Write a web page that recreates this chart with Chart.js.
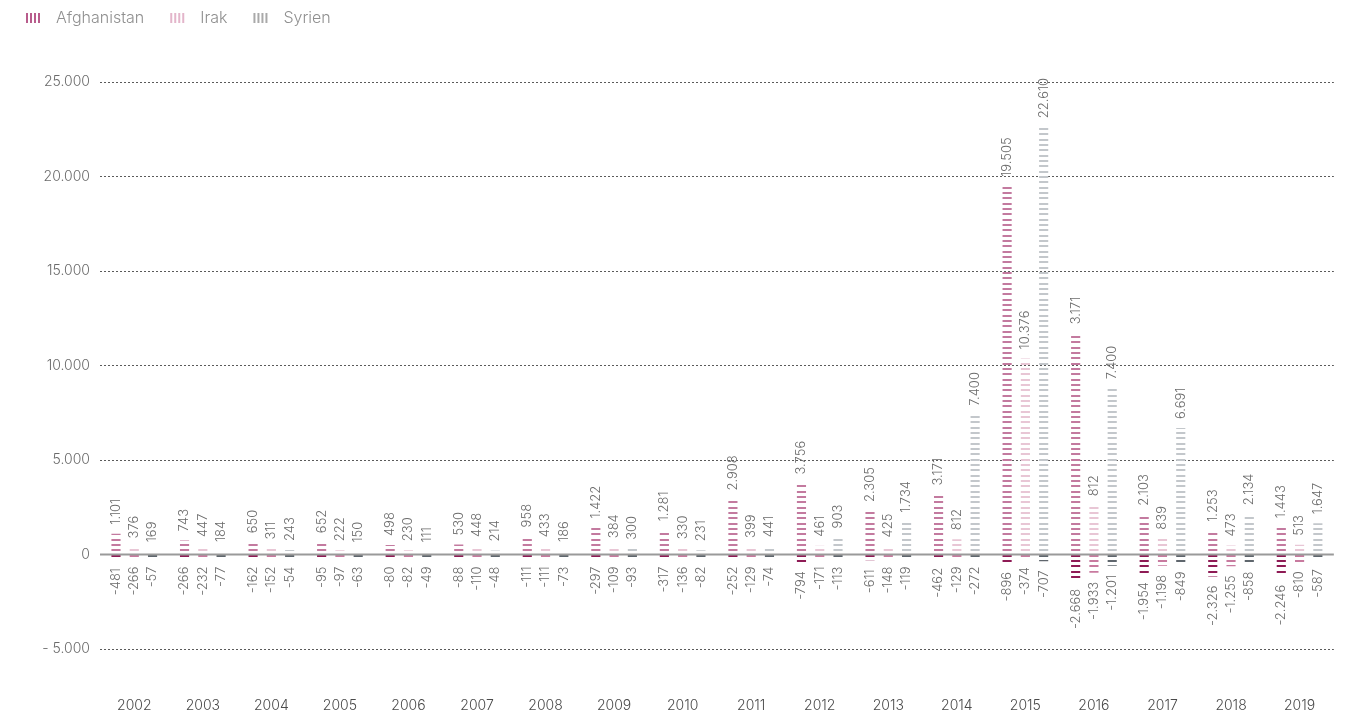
<!DOCTYPE html>
<html>
<head>
<meta charset="utf-8">
<script src="https://cdn.jsdelivr.net/npm/chart.js@4.4.1/dist/chart.umd.min.js"></script>
<style>
  html, body { margin: 0; background: #fff; }
  #wrap { width: 1364px; height: 713px; }
</style>
</head>
<body>
<div id="wrap"><canvas id="chart" width="1364" height="713"></canvas></div>
<script>
const years = ["2002","2003","2004","2005","2006","2007","2008","2009","2010",
               "2011","2012","2013","2014","2015","2016","2017","2018","2019"];

// Zugänge (positiv) und Abgänge (negativ) je Land
const afgIn   = [1101, 743, 650, 652, 498, 530, 958, 1422, 1281, 2908, 3756, 2305, 3171, 19505, 11700, 2103, 1253, 1443];
const afgOut  = [-481, -266, -162, -95, -80, -88, -111, -297, -317, -252, -794, -611, -462, -896, -2668, -1954, -2326, -2246];
const irakIn  = [376, 447, 311, 222, 230, 448, 433, 384, 330, 399, 461, 425, 812, 10376, 2600, 839, 473, 513];
const irakOut = [-266, -232, -152, -97, -82, -110, -111, -109, -136, -129, -171, -148, -129, -374, -1933, -1198, -1255, -810];
const syrIn   = [169, 184, 243, 150, 111, 214, 186, 300, 231, 441, 903, 1734, 7400, 22610, 8800, 6691, 2134, 1647];
const syrOut  = [-57, -77, -54, -63, -49, -48, -73, -93, -82, -74, -113, -119, -272, -707, -1201, -849, -858, -587];

// Beschriftungen, die im Original vom Balken abweichen (2016)
const labelOverride = {
  afgIn:  { 14: "3.171" },
  irakIn: { 14: "812" },
  syrIn:  { 14: "7.400" }
};

const yTicks = [-5000, 0, 5000, 10000, 15000, 20000, 25000];

const FONT = "Inter, 'Open Sans', sans-serif";

const fmt = (n) => String(Math.abs(n)).replace(/\B(?=(\d{3})+(?!\d))/g, ".");
const fmtSigned = (n) => (n < 0 ? "-" : "") + fmt(n);

function stripes(color) {
  const c = document.createElement("canvas");
  c.width = 4; c.height = 16;
  const g = c.getContext("2d");
  g.fillStyle = color;
  [0, 5, 11].forEach(y => g.fillRect(0, y, 4, 2));
  return g.createPattern(c, "repeat");
}

function legendIcon(color) {
  const c = document.createElement("canvas");
  c.width = 38; c.height = 12;
  const g = c.getContext("2d");
  g.fillStyle = color;
  for (let i = 0; i < 4; i++) g.fillRect(16 + i * 4, 1, 2, 10);
  return c;
}

const ctx = document.getElementById("chart").getContext("2d");

const series = [
  { key: "afgIn",  label: "Afghanistan", data: afgIn,   stack: "afg",  color: "#c37a9f", legend: "#b85c8c" },
  { key: "afgOut", label: "Afghanistan", data: afgOut,  stack: "afg",  color: "#8e1b55" },
  { key: "irakIn", label: "Irak",        data: irakIn,  stack: "irak", color: "#e8c6d5", legend: "#e3b5ca" },
  { key: "irakOut",label: "Irak",        data: irakOut, stack: "irak", color: "#c87a9f" },
  { key: "syrIn",  label: "Syrien",      data: syrIn,   stack: "syr",  color: "#c3c7cb", legend: "#a9a9a9" },
  { key: "syrOut", label: "Syrien",      data: syrOut,  stack: "syr",  color: "#5f666d" }
];

const datasets = series.map(s => ({
  label: s.label,
  key: s.key,
  data: s.data,
  stack: s.stack,
  yAxisID: s.key.endsWith("Out") ? "yNeg" : "y",
  backgroundColor: stripes(s.color),
  borderWidth: 0,
  minBarLength: 3,
  categoryPercentage: 0.8,
  barPercentage: 0.5
}));

const valueLabels = {
  id: "valueLabels",
  afterDatasetsDraw(chart) {
    const c = chart.ctx;
    const zero = chart.scales.y.getPixelForValue(0);
    // Nulllinie über den Balken
    c.save();
    c.strokeStyle = "#9a9a9a";
    c.lineWidth = 2;
    c.beginPath();
    c.moveTo(chart.chartArea.left, zero);
    c.lineTo(chart.chartArea.right, zero);
    c.stroke();

    c.font = "300 13px " + FONT;
    c.fillStyle = "#6b6b6b";
    c.textBaseline = "middle";
    chart.data.datasets.forEach((ds, di) => {
      const meta = chart.getDatasetMeta(di);
      const neg = ds.key.endsWith("Out");
      meta.data.forEach((bar, i) => {
        const v = ds.data[i];
        const over = labelOverride[ds.key] && labelOverride[ds.key][i];
        const txt = over || fmtSigned(v);
        c.save();
        if (neg) {
          c.translate(bar.x, bar.y + 9);
          c.rotate(-Math.PI / 2);
          c.textAlign = "right";
        } else {
          c.translate(bar.x, bar.y - 9);
          c.rotate(-Math.PI / 2);
          c.textAlign = "left";
        }
        c.fillText(txt, 0, 0);
        c.restore();
      });
    });
    c.restore();
  }
};

new Chart(ctx, {
  type: "bar",
  data: { labels: years, datasets },
  options: {
    responsive: false,
    animation: false,
    events: [],
    layout: { padding: { left: 0, right: 14, top: 0, bottom: 0 } },
    plugins: {
      tooltip: { enabled: false },
      legend: {
        display: true,
        position: "top",
        align: "start",
        labels: {
          usePointStyle: true,
          pointStyleWidth: 38,
          padding: 10,
          color: "#8f8f8f",
          font: { family: FONT, size: 16, weight: "300" },
          generateLabels: () => series.filter(s => s.legend).map(s => ({
            text: s.label,
            pointStyle: legendIcon(s.legend),
            fillStyle: "transparent",
            strokeStyle: "transparent",
            lineWidth: 0,
            hidden: false,
            fontColor: "#8f8f8f"
          }))
        }
      }
    },
    scales: {
      x: {
        grid: { display: false, drawTicks: false },
        border: { display: false },
        ticks: { color: "#4a4a4a", padding: 48, font: { family: FONT, size: 14, weight: "300" } },
        afterFit: (s) => { s.height = 64; }
      },
      xTop: {
        axis: "x",
        type: "category",
        position: "top",
        grid: { display: false, drawTicks: false },
        border: { display: false },
        ticks: { display: false },
        afterFit: (s) => { s.height = 46; }
      },
      y: {
        min: -5000,
        max: 25000,
        afterBuildTicks: (s) => { s.ticks = yTicks.map(v => ({ value: v })); },
        grid: {
          drawTicks: false,
          color: (c) => c.tick && c.tick.value === 0 ? "transparent" : "#5a5a5a",
          lineWidth: 1
        },
        border: { display: false, dash: [2, 2] },
        ticks: {
          padding: 10,
          color: "#6b6b6b",
          font: { family: FONT, size: 14, weight: "300" },
          callback: (v) => v === 0 ? "0" : (v < 0 ? "- " : "") + fmt(v)
        },
        afterFit: (s) => { s.width = 100; }
      },
      yNeg: {
        display: false,
        min: -10000,
        max: 50000
      }
    }
  },
  plugins: [valueLabels]
});
</script>
</body>
</html>
